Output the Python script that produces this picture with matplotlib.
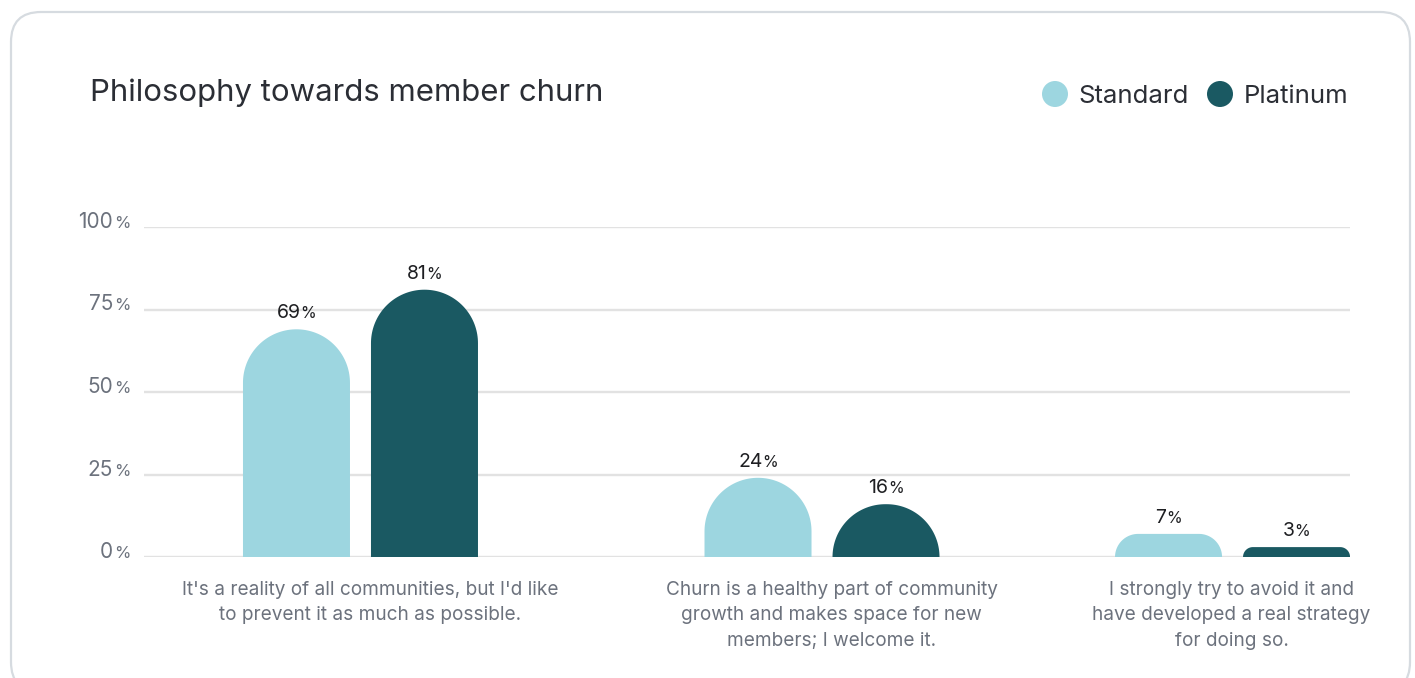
import numpy as np
import matplotlib
matplotlib.use("Agg")
import matplotlib.pyplot as plt
from matplotlib.patches import PathPatch, FancyBboxPatch, Circle
from matplotlib.path import Path
from matplotlib.transforms import IdentityTransform, offset_copy

# ---- data ----
categories = [
    "It's a reality of all communities, but I'd like\nto prevent it as much as possible.",
    "Churn is a healthy part of community\ngrowth and makes space for new\nmembers; I welcome it.",
    "I strongly try to avoid it and\nhave developed a real strategy\nfor doing so.",
]
series_names = ["Standard", "Platinum"]
standard = [69, 24, 7]
platinum = [81, 16, 3]
y_ticks = [0, 25, 50, 75, 100]

# ---- style ----
FONT = ["Inter", "DejaVu Sans"]
plt.rcParams["font.family"] = FONT
C_STD = "#9dd6e0"
C_PLAT = "#1a5962"
C_GRID = "#e2e2e2"
C_AXTXT = "#6c727d"
C_DARK = "#2b2e35"

W, H, DPI = 1415, 678, 100
fig = plt.figure(figsize=(W / DPI, H / DPI), dpi=DPI)
fig.patch.set_facecolor("white")

# card outline (pixel coordinates, origin bottom-left)
card = FancyBboxPatch((11, -14), 1399, H - 12 + 14,
                      boxstyle="round,pad=0,rounding_size=30",
                      transform=IdentityTransform(), facecolor="none",
                      edgecolor="#d6dbe0", linewidth=1.6, zorder=-1)
fig.patches.append(card)
card.set_figure(fig)

# plotting area
ax_l, ax_r, ax_top, ax_bot = 144, 1350, 227, 557
ax = fig.add_axes([ax_l / W, 1 - ax_bot / H, (ax_r - ax_l) / W, (ax_bot - ax_top) / H])
ax.set_xlim(0, 1)
ax.set_ylim(0, 100)
ax.axis("off")
ax.patch.set_alpha(0)

px_x = (ax_r - ax_l) / 1.0
px_y = (ax_bot - ax_top) / 100.0

for v in y_ticks:
    ax.axhline(v, color=C_GRID, lw=1.7, zorder=0)

# group layout
centers = [0.1795, 0.5622, 0.9026]
label_shift = [9.5 / px_x, 9.5 / px_x, -1 / px_x]
bar_w = 107 / px_x
half_gap = 64 / px_x


def rounded_bar(xc, h, color):
    x0, x1 = xc - bar_w / 2, xc + bar_w / 2
    w_px, h_px = bar_w * px_x, h * px_y
    r = min(w_px / 2, h_px)
    rx, ry = r / px_x, r / px_y
    t1 = np.linspace(np.pi, np.pi / 2, 40)
    t2 = np.linspace(np.pi / 2, 0, 40)
    left = np.column_stack([x0 + rx + rx * np.cos(t1), h - ry + ry * np.sin(t1)])
    right = np.column_stack([x1 - rx + rx * np.cos(t2), h - ry + ry * np.sin(t2)])
    verts = np.vstack([[x0, 0], left, right, [x1, 0], [x0, 0]])
    codes = [Path.MOVETO] + [Path.LINETO] * (len(verts) - 2) + [Path.CLOSEPOLY]
    ax.add_patch(PathPatch(Path(verts, codes), facecolor=color, edgecolor="none", zorder=2))


renderer = fig.canvas.get_renderer()


def pct_text(x, y, num, transform, size_num, size_pct, color, align="center", dy=0, gap=1.0):
    """Draw a number followed by a smaller % sign."""
    t1 = fig.text(0, 0, num, fontsize=size_num, color=color)
    t2 = fig.text(0, 0, "%", fontsize=size_pct, color=color)
    w1 = t1.get_window_extent(renderer).width
    w2 = t2.get_window_extent(renderer).width
    t1.remove(); t2.remove()
    total = w1 + gap + w2
    start = -total / 2 if align == "center" else -total
    tr1 = offset_copy(transform, fig=fig, x=start, y=dy, units="dots")
    tr2 = offset_copy(transform, fig=fig, x=start + w1 + gap, y=dy, units="dots")
    ax.text(x, y, num, transform=tr1, fontsize=size_num, color=color,
            ha="left", va="baseline", clip_on=False)
    ax.text(x, y, "%", transform=tr2, fontsize=size_pct, color=color,
            ha="left", va="baseline", clip_on=False)


for i, xc in enumerate(centers):
    for val, off, col in ((standard[i], -half_gap, C_STD), (platinum[i], half_gap, C_PLAT)):
        rounded_bar(xc + off, val, col)
        pct_text(xc + off, val, str(val), ax.transData, 14, 11.5, "#1e1f22", dy=11, gap=-0.5)
    ax.text(xc + label_shift[i], -7.2, categories[i], ha="center", va="top", fontsize=13.7,
            color=C_AXTXT, linespacing=1.54, clip_on=False)

# y tick labels
for v in y_ticks:
    pct_text(-13 / px_x, v, str(v), ax.transData, 15, 12, C_AXTXT, align="right", dy=-1, gap=1.5)

# title
fig.text(90 / W, 1 - 101 / H, "Philosophy towards member churn", fontsize=22.4,
         color=C_DARK, ha="left", va="baseline")

# legend
for cx, tx, name, col in ((1055, 1078, series_names[0], C_STD), (1220, 1244, series_names[1], C_PLAT)):
    fig.patches.append(Circle((cx, H - 94), 13, transform=IdentityTransform(),
                              facecolor=col, edgecolor="none"))
    fig.text(tx / W, 1 - 103 / H, name, fontsize=18.5, color=C_DARK, ha="left", va="baseline")

fig.savefig("out.png", dpi=DPI, facecolor="white")
